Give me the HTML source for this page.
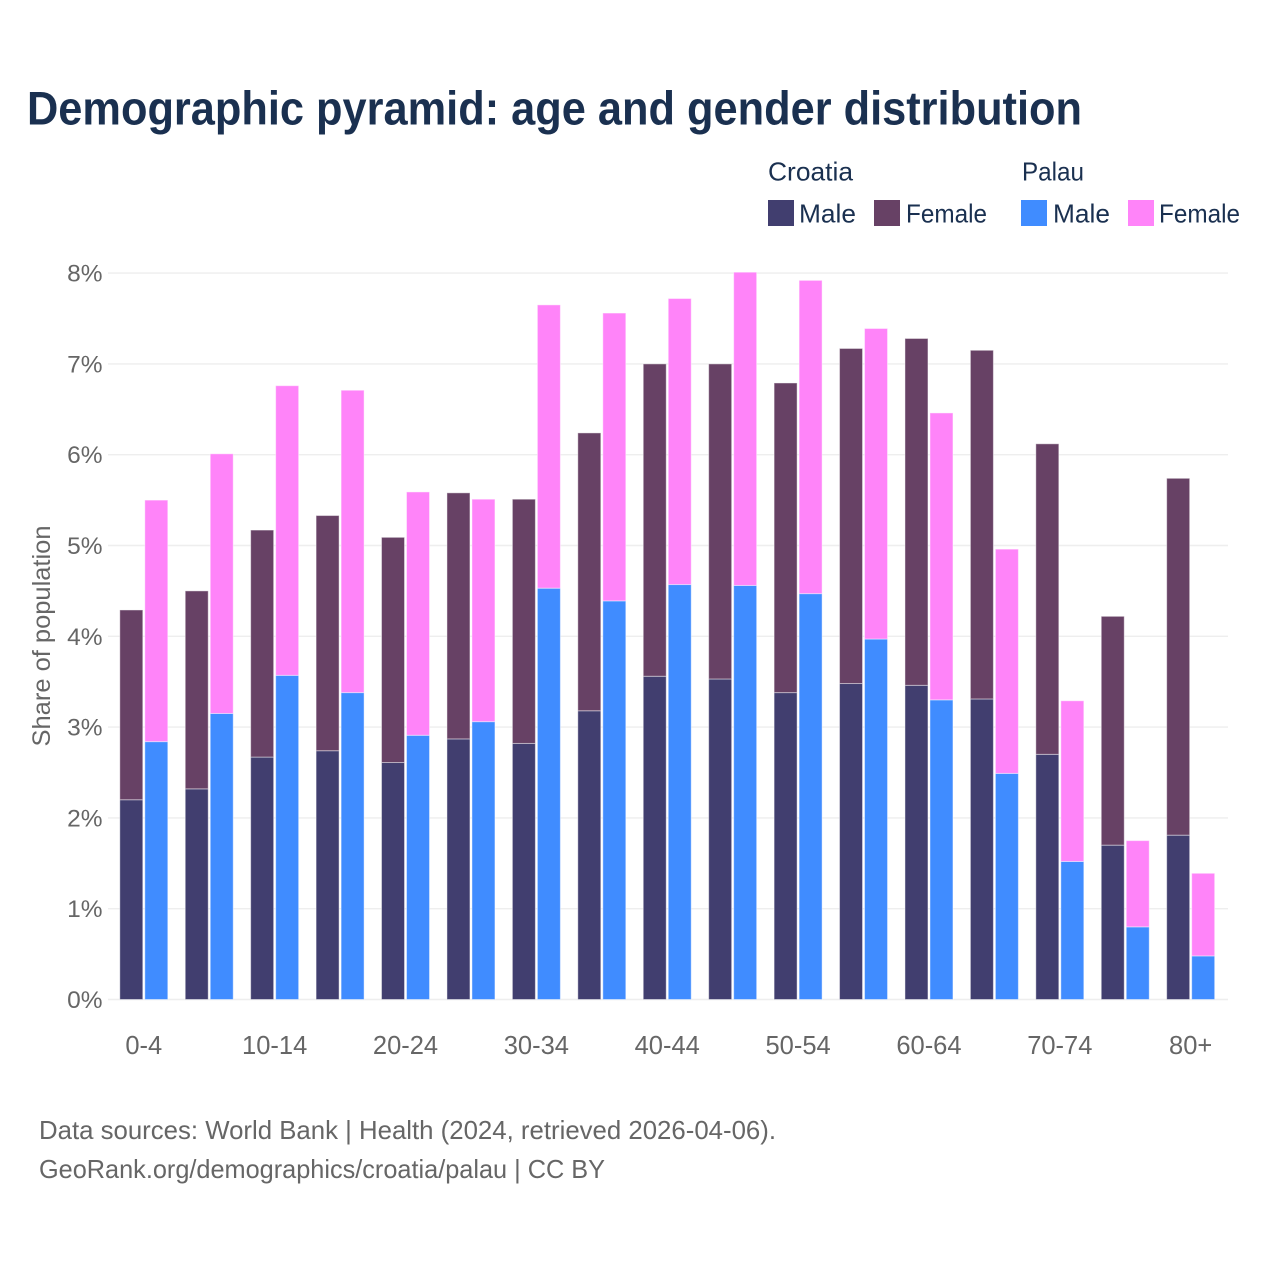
<!DOCTYPE html>
<html lang="en">
<head>
<meta charset="utf-8">
<title>Demographic pyramid</title>
<style>
html,body{margin:0;padding:0;background:#fff;width:1280px;height:1280px;overflow:hidden}
svg{display:block;font-family:"Liberation Sans",sans-serif}
</style>
</head>
<body>
<svg id="chart" xmlns="http://www.w3.org/2000/svg" width="1280" height="1280" viewBox="0 0 1280 1280">
  <rect x="0" y="0" width="1280" height="1280" fill="#ffffff"/>
  <text x="27" y="124.5" font-size="47" font-weight="700" fill="#1a3050" textLength="1055" lengthAdjust="spacingAndGlyphs">Demographic pyramid: age and gender distribution</text>

  <g font-size="26" fill="#1a3050">
    <text x="768" y="180.5" textLength="85" lengthAdjust="spacingAndGlyphs">Croatia</text>
    <text x="1022" y="180.5" textLength="62" lengthAdjust="spacingAndGlyphs">Palau</text>
    <rect x="768" y="200" width="26" height="26" fill="#413e6f"/>
    <text x="799" y="222.5" textLength="57" lengthAdjust="spacingAndGlyphs">Male</text>
    <rect x="874" y="200" width="26" height="26" fill="#674165"/>
    <text x="906" y="222.5" textLength="81" lengthAdjust="spacingAndGlyphs">Female</text>
    <rect x="1021" y="200" width="26" height="26" fill="#408cff"/>
    <text x="1053" y="222.5" textLength="57" lengthAdjust="spacingAndGlyphs">Male</text>
    <rect x="1128" y="200" width="26" height="26" fill="#ff84f9"/>
    <text x="1159" y="222.5" textLength="81" lengthAdjust="spacingAndGlyphs">Female</text>
  </g>

  <g id="grid"></g>
  <g id="ylabels"></g>
  <text transform="translate(50 636) rotate(-90)" text-anchor="middle" font-size="25" fill="#666666" textLength="221" lengthAdjust="spacingAndGlyphs">Share of population</text>
  <g id="bars"></g>
  <g id="xlabels"></g>

  <g font-size="26" fill="#666666">
    <text x="39" y="1139" textLength="737" lengthAdjust="spacingAndGlyphs">Data sources: World Bank | Health (2024, retrieved 2026-04-06).</text>
    <text x="39" y="1178" textLength="566" lengthAdjust="spacingAndGlyphs">GeoRank.org/demographics/croatia/palau | CC BY</text>
  </g>
</svg>
<script>
const categories = ["0-4","5-9","10-14","15-19","20-24","25-29","30-34","35-39","40-44","45-49","50-54","55-59","60-64","65-69","70-74","75-79","80+"];
const xTickLabels = ["0-4","","10-14","","20-24","","30-34","","40-44","","50-54","","60-64","","70-74","","80+"];
const yTicks = [0,1,2,3,4,5,6,7,8];
const croatiaMale = [2.20,2.32,2.67,2.74,2.61,2.87,2.82,3.18,3.56,3.53,3.38,3.48,3.46,3.31,2.70,1.70,1.81];
const croatiaFemale = [2.09,2.18,2.50,2.59,2.48,2.71,2.69,3.06,3.44,3.47,3.41,3.69,3.82,3.84,3.42,2.52,3.93];
const palauMale = [2.84,3.15,3.57,3.38,2.91,3.06,4.53,4.39,4.57,4.56,4.47,3.97,3.30,2.49,1.52,0.80,0.48];
const palauFemale = [2.66,2.86,3.19,3.33,2.68,2.45,3.12,3.17,3.15,3.45,3.45,3.42,3.16,2.47,1.77,0.95,0.91];

const NS = "http://www.w3.org/2000/svg";
const yScale = v => 999.5 - v * 90.8;
const xScale = i => 143.8 + i * 65.43;
const barWidth = 23;
const barOffset = 12.5;

function make(tag, attrs) {
  const el = document.createElementNS(NS, tag);
  for (const k in attrs) el.setAttribute(k, attrs[k]);
  return el;
}

const grid = document.getElementById("grid");
const ylabels = document.getElementById("ylabels");
yTicks.forEach(t => {
  const line = make("line", {x1:108, x2:1228, y1:yScale(t), y2:yScale(t), stroke:"#eeeeee", "stroke-width":1.4});
  
  
  grid.appendChild(line);
  const label = make("text", {x:102.5, y:yScale(t)+8.5, "text-anchor":"end", "font-size":24.5, fill:"#666666"});
  
  
  label.textContent = t + "%";
  ylabels.appendChild(label);
});

function drawSegment(i, side, base, value, color, name) {
  const top = yScale(base + value);
  const bottom = yScale(base);
  const r = make("rect", {
    x: xScale(i) + side * barOffset - barWidth / 2,
    y: top,
    width: barWidth,
    height: bottom - top,
    fill: color,
    stroke: "#ffffff",
    "stroke-opacity": 0.45,
    "stroke-width": 1
  });
  
  
  document.getElementById("bars").appendChild(r);
}

categories.forEach((c, i) => {
  drawSegment(i, -1, 0, croatiaMale[i], "#413e6f", "bar-croatia-male");
  drawSegment(i, -1, croatiaMale[i], croatiaFemale[i], "#674165", "bar-croatia-female");
  drawSegment(i, 1, 0, palauMale[i], "#408cff", "bar-palau-male");
  drawSegment(i, 1, palauMale[i], palauFemale[i], "#ff84f9", "bar-palau-female");
  if (xTickLabels[i]) {
    const label = make("text", {x:xScale(i), y:1054, "text-anchor":"middle", "font-size":25.5, fill:"#666666"});
    
    
    label.textContent = xTickLabels[i];
    document.getElementById("xlabels").appendChild(label);
  }
});
</script>
</body>
</html>
